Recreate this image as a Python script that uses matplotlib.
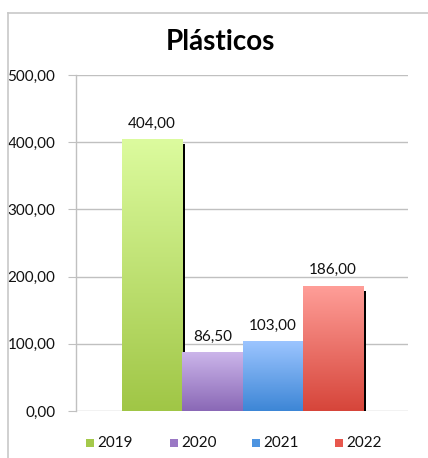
import matplotlib
matplotlib.use("Agg")
import matplotlib.pyplot as plt
import numpy as np
from matplotlib.colors import LinearSegmentedColormap
from matplotlib.lines import Line2D
from matplotlib.patches import Rectangle
import matplotlib.transforms as mtransforms

title = "Plásticos"
years = ["2019", "2020", "2021", "2022"]
values = [404.00, 86.50, 103.00, 186.00]
labels = ["404,00", "86,50", "103,00", "186,00"]
yticks = [0, 100, 200, 300, 400, 500]
ytick_labels = ["0,00", "100,00", "200,00", "300,00", "400,00", "500,00"]
top_colors = ["#dcfb9e", "#cbb5ea", "#9cc5ff", "#ff9e98"]
bottom_colors = ["#a0c646", "#8a68b6", "#3d86d6", "#d6453a"]
legend_colors = ["#a4c94b", "#9a78c4", "#4d94e0", "#e8574d"]

plt.rcParams['font.family'] = ['Lato', 'DejaVu Sans']

W, H = 428, 458
fig = plt.figure(figsize=(W / 100, H / 100), dpi=100)
fig.patch.set_facecolor("white")

# outer border (left and top)
fig.add_artist(Line2D([8 / W, 8 / W], [0, 1 - 13 / H], transform=fig.transFigure, color="#c8c8c8", lw=1.2))
fig.add_artist(Line2D([8 / W, 1], [1 - 13 / H, 1 - 13 / H], transform=fig.transFigure, color="#c8c8c8", lw=1.2))

ax = fig.add_axes([76 / W, 1 - 411 / H, (408 - 76) / W, (411 - 75) / H])

for s in ["top", "right", "bottom"]:
    ax.spines[s].set_visible(False)
ax.spines["left"].set_color("#c0c0c0")
ax.spines["left"].set_linewidth(1.0)
ax.set_yticks(yticks)
ax.set_yticklabels(ytick_labels, fontsize=11)
ax.tick_params(axis="y", length=6, color="#c0c0c0", pad=9, labelcolor="#111111")
ax.set_xticks([])
ax.yaxis.grid(True, color="#c0c0c0", lw=1.0)
ax.set_axisbelow(True)

shadow_off = mtransforms.ScaledTranslation(3 / 100, -2 / 100, fig.dpi_scale_trans)
for i, (v, lab) in enumerate(zip(values, labels)):
    x0 = i - 0.5
    x1 = i + 0.5
    # shadow
    sh = Rectangle((x0, 0), 1.0, v - 4, facecolor="black", edgecolor="none",
                   transform=ax.transData + shadow_off, zorder=2)
    ax.add_patch(sh)
    cmap = LinearSegmentedColormap.from_list("g%d" % i, [bottom_colors[i], top_colors[i]])
    grad = np.linspace(0, 1, 256).reshape(-1, 1)
    ax.imshow(grad, extent=(x0, x1, 0, v), origin="lower", aspect="auto", cmap=cmap, zorder=3)
    ax.text(i, v + 13, lab, ha="center", va="bottom", fontsize=11, color="#111111", zorder=4)

ax.set_xlim(-1.26, 4.24)
ax.set_ylim(0, 500)

fig.text(220 / W, 1 - 42 / H, title, ha="center", va="center", fontsize=20, fontweight="bold", color="black")

# legend
leg_x = [86, 170, 252, 335]
for xl, c, yr in zip(leg_x, legend_colors, years):
    fig.add_artist(Rectangle((xl / W, 1 - 447 / H), 8 / W, 8 / H, transform=fig.transFigure,
                             facecolor=c, edgecolor="none"))
    fig.text((xl + 11) / W, 1 - 443 / H, yr, ha="left", va="center", fontsize=11, color="#111111")

fig.savefig("out.png", dpi=100, facecolor="white")
